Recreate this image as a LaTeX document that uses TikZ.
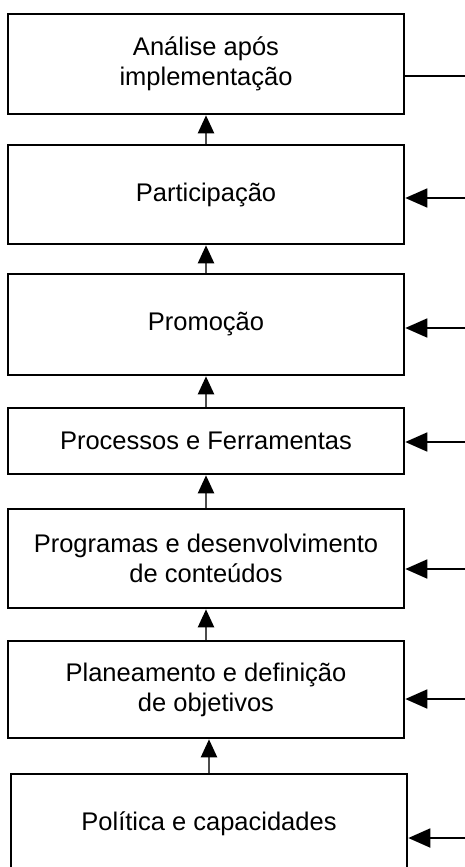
\documentclass[tikz,border=0pt]{standalone}
\usepackage{fontspec}
\setmainfont{Liberation Sans}
\usetikzlibrary{arrows.meta}

\tikzset{
    stage/.style={draw, line width=2.6pt, minimum width=396pt, inner sep=0pt,
        align=center, font=\fontsize{25.5}{30}\selectfont},
    upline/.style={-{Triangle[length=18pt,width=16pt,color=black]}, line width=2.2pt, draw=black!70},
    feedin/.style={-{Triangle[length=22pt,width=19pt]}, line width=1.8pt}
}

\begin{document}
\begin{tikzpicture}[x=1pt,y=-1pt]
                \useasboundingbox (0,0) rectangle (465,867);

                \node[stage, minimum height=100pt] (analise) at (206,64) {Análise após\\implementação};
                \node[stage, minimum height=99pt] (particip) at (206,194.5) {Participação};
                \node[stage, minimum height=101pt] (promo) at (206,324.5) {Promoção};
                \node[stage, minimum height=66pt] (process) at (206,441) {Processos e Ferramentas};
                \node[stage, minimum height=99pt] (program) at (206,558.5) {Programas e desenvolvimento\\de conteúdos};
                \node[stage, minimum height=97pt] (planeam) at (206,689.5) {Planeamento e definição\\de objetivos};
                \node[stage, minimum height=100pt] (politica) at (209,824) {Política e capacidades};

                \draw[upline] (particip.north) -- (analise.south);
                \draw[upline] (promo.north) -- (particip.south);
                \draw[upline] (process.north) -- (promo.south);
                \draw[upline] (program.north) -- (process.south);
                \draw[upline] (planeam.north) -- (program.south);
                \draw[upline] (politica.north) -- (politica.north |- planeam.south);

                \coordinate (fA) at (465,76);
                \coordinate (fB) at (465,198);
                \coordinate (fC) at (465,328);
                \coordinate (fD) at (465,442);
                \coordinate (fE) at (465,569);
                \coordinate (fF) at (465,699);
                \coordinate (fG) at (465,838);

                \draw[line width=1.8pt] (fA) -- (fA -| analise.east);
                \draw[feedin] (fB) -- (fB -| particip.east);
                \draw[feedin] (fC) -- (fC -| promo.east);
                \draw[feedin] (fD) -- (fD -| process.east);
                \draw[feedin] (fE) -- (fE -| program.east);
                \draw[feedin] (fF) -- (fF -| planeam.east);
                \draw[feedin] (fG) -- (fG -| politica.east);
\end{tikzpicture}
\end{document}
